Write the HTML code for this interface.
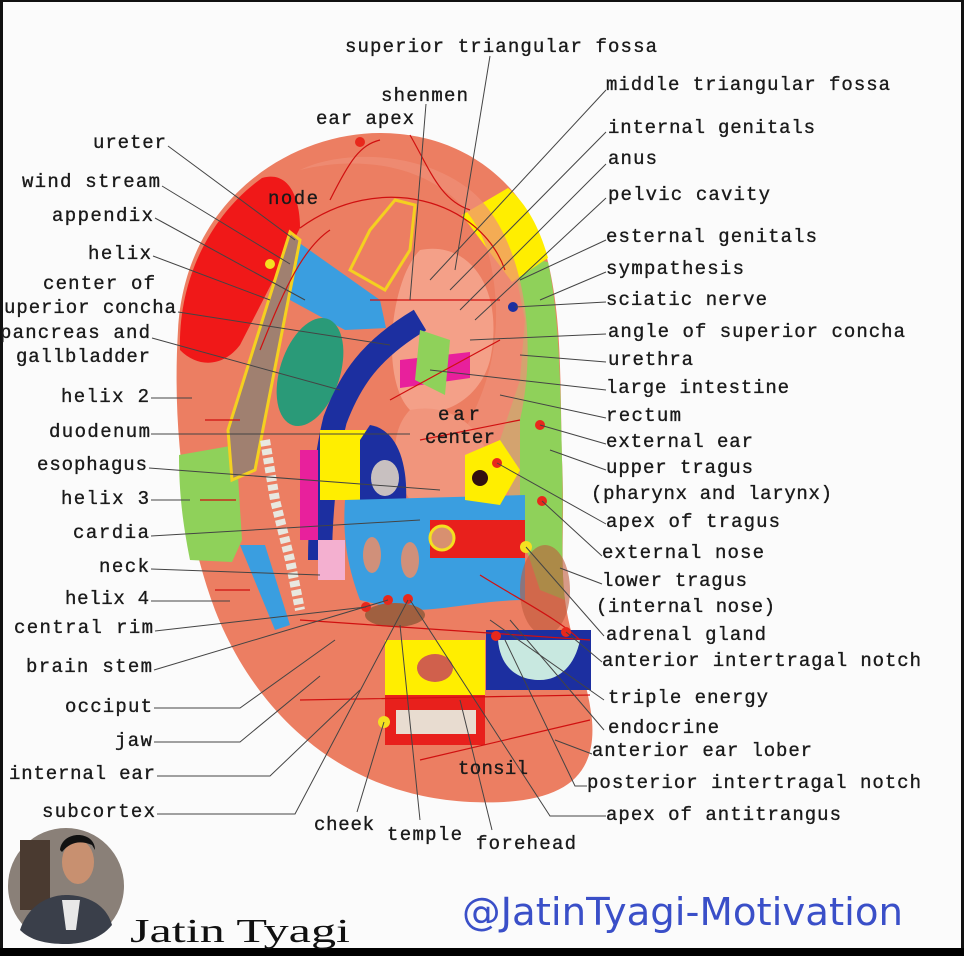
<!DOCTYPE html>
<html><head><meta charset="utf-8"><style>
html,body{margin:0;padding:0;background:#fff}
svg{display:block}
text{font-family:"Liberation Mono",monospace;font-size:19px;fill:#1a1a1a;stroke:#1a1a1a;stroke-width:0.35}
</style></head><body>
<svg width="964" height="956" viewBox="0 0 964 956" xmlns="http://www.w3.org/2000/svg">
<rect width="964" height="956" fill="#fbfbfb"/>
<rect x="0" y="0" width="3" height="956" fill="#111"/>
<rect x="0" y="0" width="964" height="2" fill="#111"/>
<rect x="961" y="0" width="3" height="956" fill="#111"/>
<rect x="0" y="948" width="964" height="8" fill="#000"/>

<path d="M380 133 C290 133 185 200 178 330 C172 430 185 530 215 610 C250 700 330 795 470 802 C560 806 597 780 592 720 C588 680 570 640 565 600 C560 560 565 520 562 460 C560 380 562 320 548 262 C528 180 460 133 380 133 Z" fill="#ec7e62"/>
<path d="M262 178 C290 170 300 200 300 228 L240 345 C225 365 200 370 180 350 C178 280 210 215 262 178 Z" fill="#f01818"/>
<path d="M179 455 L236 445 L242 540 L232 562 L190 560 C182 520 179 490 179 455 Z" fill="#8fd15a"/>
<path d="M512 255 L548 262 C560 320 560 380 562 460 C564 520 560 560 565 600 L540 590 L510 500 L500 440 L520 380 L525 320 Z" fill="#8fd15a"/>
<path d="M462 215 L508 188 C528 205 540 230 548 258 L512 282 Z" fill="#ffee00"/>
<path d="M300 170 C380 150 470 175 490 260 C505 330 490 380 470 420 C440 470 420 520 450 500 L520 500 L520 420 C540 330 520 230 470 190 C420 150 340 150 300 170 Z" fill="#f09078" opacity="0.7"/>
<path d="M420 250 C470 240 505 290 490 360 C480 400 440 420 410 410 C380 380 390 280 420 250 Z" fill="#f4a088"/>
<path d="M410 410 C460 400 500 440 490 500 L410 500 C390 470 390 430 410 410 Z" fill="#f1957c"/>
<path d="M298 242 L380 300 L386 328 L345 330 L290 300 L285 272 Z" fill="#3a9ee0"/>
<path d="M395 200 L415 205 L410 250 L385 290 L350 270 L370 230 Z" fill="none" stroke="#f4d020" stroke-width="3"/>
<ellipse cx="310" cy="372" rx="30" ry="56" transform="rotate(18 310 372)" fill="#2a9a78"/>
<path d="M290 232 L300 240 L255 470 L232 480 L228 430 Z" fill="#a08070" stroke="#f4d020" stroke-width="3"/>
<circle cx="270" cy="264" r="5" fill="#f4e020"/>
<path d="M420 320 C370 350 350 380 335 420 C325 460 320 520 320 560" fill="none" stroke="#1c2fa0" stroke-width="24"/>
<path d="M300 450 L318 450 L318 540 L300 540 Z" fill="#e8209c"/>
<path d="M318 540 L345 540 L345 580 L318 580 Z" fill="#f4b0d0"/>
<path d="M320 430 L370 430 L370 500 L320 500 Z" fill="#ffee00"/>
<path d="M370 425 C400 430 410 470 405 515 L360 515 L360 440 Z" fill="#1c2fa0"/>
<ellipse cx="385" cy="478" rx="14" ry="18" fill="#c8c0c0"/>
<path d="M400 360 L470 352 L470 378 L400 388 Z" fill="#e8209c"/>
<path d="M420 330 L450 340 L445 395 L415 380 Z" fill="#8fd15a"/>
<path d="M345 500 L525 495 L525 600 C480 600 440 612 400 610 L360 600 C345 560 343 530 345 500 Z" fill="#3a9ee0"/>
<path d="M430 520 L525 520 L525 558 L430 558 Z" fill="#e8201c"/>
<circle cx="442" cy="538" r="12" fill="#d89070" stroke="#f4e020" stroke-width="3"/>
<path d="M465 455 L500 440 L520 470 L500 505 L465 500 Z" fill="#ffee00"/>
<circle cx="480" cy="478" r="8" fill="#331010"/>
<ellipse cx="372" cy="555" rx="9" ry="18" fill="#d0907a"/>
<ellipse cx="410" cy="560" rx="9" ry="18" fill="#d0907a"/>
<path d="M265 440 L275 500 L290 560 L300 610" fill="none" stroke="#e8e8e0" stroke-width="10" stroke-dasharray="6 3"/>
<path d="M240 545 L265 545 L290 625 L275 630 Z" fill="#3a9ee0"/>
<ellipse cx="545" cy="590" rx="25" ry="45" fill="#c05a3c" opacity="0.6"/>
<ellipse cx="395" cy="615" rx="30" ry="12" fill="#a06040"/>
<rect x="385" y="640" width="100" height="55" fill="#ffee00"/>
<ellipse cx="435" cy="668" rx="18" ry="14" fill="#d0604c"/>
<rect x="385" y="695" width="100" height="50" fill="#e8201c"/>
<rect x="396" y="710" width="80" height="24" fill="#e8dcd0"/>
<rect x="486" y="630" width="105" height="60" fill="#1c2fa0"/>
<path d="M498 640 L580 640 C575 665 560 680 540 680 C515 680 500 665 498 640 Z" fill="#c8e8e0"/>
<g fill="none" stroke="#d01010" stroke-width="1.2">
<path d="M300 228 C380 170 480 200 505 270"/>
<path d="M260 350 C280 300 300 250 330 230"/>
<path d="M205 420 L240 420 M200 500 L236 500 M215 590 L250 590"/>
<path d="M330 200 C350 160 360 145 380 140"/>
<path d="M410 135 C430 170 440 200 470 210"/>
<path d="M390 400 L500 340 M420 440 L520 420 M370 300 L500 300"/>
<path d="M300 700 L590 695 M300 620 L590 640 M420 760 L590 720"/>
<path d="M480 575 C520 600 560 620 580 640"/>
</g>
<g fill="#e8281c">
<circle cx="360" cy="142" r="5"/>
<circle cx="540" cy="425" r="5"/>
<circle cx="497" cy="463" r="5"/>
<circle cx="542" cy="501" r="5"/>
<circle cx="496" cy="636" r="5"/>
<circle cx="566" cy="632" r="5"/>
<circle cx="366" cy="607" r="5"/>
<circle cx="388" cy="600" r="5"/>
<circle cx="408" cy="599" r="5"/>
</g>
<circle cx="513" cy="307" r="5" fill="#1c2fa0"/>
<circle cx="526" cy="547" r="6" fill="#f4e020"/>
<circle cx="384" cy="722" r="6" fill="#f4e020"/>

<g stroke="#444" stroke-width="1" fill="none">
<path d="M490 56 L455 270"/>
<path d="M426 104 L410 300"/>
<path d="M606 90 L430 280"/>
<path d="M606 132 L450 290"/>
<path d="M606 164 L460 310"/>
<path d="M606 198 L475 320"/>
<path d="M606 240 L520 280"/>
<path d="M606 272 L540 300"/>
<path d="M606 302 L515 307"/>
<path d="M606 334 L470 340"/>
<path d="M606 362 L520 355"/>
<path d="M606 390 L430 370"/>
<path d="M606 418 L500 395"/>
<path d="M606 444 L540 425"/>
<path d="M606 470 L550 450"/>
<path d="M606 524 L497 463"/>
<path d="M602 556 L542 501"/>
<path d="M602 584 L560 568"/>
<path d="M604 636 L526 547"/>
<path d="M602 662 L566 632"/>
<path d="M604 700 L490 620"/>
<path d="M604 730 L510 620"/>
<path d="M592 754 L555 740"/>
<path d="M587 786 L575 786 L505 640"/>
<path d="M606 816 L550 816 L410 600"/>
<path d="M168 146 L295 240"/>
<path d="M162 186 L290 264"/>
<path d="M155 218 L305 300"/>
<path d="M153 256 L270 300"/>
<path d="M178 312 L390 345"/>
<path d="M152 338 L340 390"/>
<path d="M151 398 L192 398"/>
<path d="M151 434 L410 434"/>
<path d="M149 468 L440 490"/>
<path d="M151 500 L190 500"/>
<path d="M151 536 L420 520"/>
<path d="M151 569 L320 575"/>
<path d="M151 601 L230 601"/>
<path d="M155 631 L366 607"/>
<path d="M154 670 L388 600"/>
<path d="M154 708 L240 708 L335 640"/>
<path d="M154 742 L240 742 L320 676"/>
<path d="M157 776 L270 776 L360 690"/>
<path d="M157 814 L295 814 L408 600"/>
<path d="M357 812 L384 722"/>
<path d="M420 820 L400 625"/>
<path d="M492 830 L460 700"/>
</g>

<text x="345" y="52" textLength="312">superior triangular fossa</text>
<text x="381" y="101" textLength="87">shenmen</text>
<text x="316" y="124" textLength="98">ear apex</text>
<text x="268" y="204" textLength="50">node</text>
<text x="438" y="420" textLength="42">ear</text>
<text x="425" y="443" textLength="70">center</text>
<text x="458" y="774" textLength="70">tonsil</text>
<text x="314" y="830" textLength="60">cheek</text>
<text x="387" y="840" textLength="75">temple</text>
<text x="476" y="849" textLength="100">forehead</text>

<text x="606" y="90" textLength="284">middle triangular fossa</text>
<text x="608" y="133" textLength="207">internal genitals</text>
<text x="608" y="164" textLength="49">anus</text>
<text x="608" y="200" textLength="162">pelvic cavity</text>
<text x="606" y="242" textLength="211">esternal genitals</text>
<text x="606" y="274" textLength="138">sympathesis</text>
<text x="606" y="305" textLength="161">sciatic nerve</text>
<text x="608" y="337" textLength="297">angle of superior concha</text>
<text x="608" y="365" textLength="85">urethra</text>
<text x="606" y="393" textLength="183">large intestine</text>
<text x="606" y="421" textLength="75">rectum</text>
<text x="606" y="447" textLength="147">external ear</text>
<text x="606" y="473" textLength="147">upper tragus</text>
<text x="591" y="499" textLength="241">(pharynx and larynx)</text>
<text x="606" y="527" textLength="174">apex of tragus</text>
<text x="602" y="558" textLength="162">external nose</text>
<text x="602" y="586" textLength="145">lower tragus</text>
<text x="596" y="612" textLength="179">(internal nose)</text>
<text x="606" y="640" textLength="160">adrenal gland</text>
<text x="602" y="666" textLength="319">anterior intertragal notch</text>
<text x="608" y="703" textLength="160">triple energy</text>
<text x="608" y="733" textLength="111">endocrine</text>
<text x="592" y="756" textLength="220">anterior ear lober</text>
<text x="587" y="788" textLength="334">posterior intertragal notch</text>
<text x="606" y="820" textLength="235">apex of antitrangus</text>

<text x="93" y="148" textLength="73">ureter</text>
<text x="22" y="187" textLength="138">wind stream</text>
<text x="52" y="221" textLength="101">appendix</text>
<text x="88" y="259" textLength="63">helix</text>
<text x="43" y="289" textLength="112">center of</text>
<text x="4" y="313" textLength="172">uperior concha</text>
<text x="0" y="338" textLength="150">pancreas and</text>
<text x="16" y="362" textLength="134">gallbladder</text>
<text x="61" y="402" textLength="88">helix 2</text>
<text x="49" y="437" textLength="101">duodenum</text>
<text x="37" y="470" textLength="110">esophagus</text>
<text x="61" y="504" textLength="88">helix 3</text>
<text x="73" y="538" textLength="76">cardia</text>
<text x="99" y="572" textLength="50">neck</text>
<text x="65" y="604" textLength="84">helix 4</text>
<text x="14" y="633" textLength="139">central rim</text>
<text x="26" y="672" textLength="126">brain stem</text>
<text x="65" y="712" textLength="87">occiput</text>
<text x="115" y="746" textLength="37">jaw</text>
<text x="9" y="779" textLength="146">internal ear</text>
<text x="42" y="817" textLength="113">subcortex</text>

<circle cx="66" cy="886" r="58" fill="#8a8078"/>
<rect x="20" y="840" width="30" height="70" fill="#4a3a30"/>
<path d="M20 930 C30 900 55 895 66 895 C80 895 105 900 112 925 C100 940 80 944 66 944 C45 944 30 940 20 930 Z" fill="#3a3f4a"/>
<path d="M62 900 L80 900 L76 930 L66 930 Z" fill="#e8e8e8"/>
<ellipse cx="78" cy="862" rx="16" ry="22" fill="#c89070"/>
<path d="M60 850 C62 830 95 830 95 850 L92 845 C80 840 70 842 62 852 Z" fill="#111"/>
<text x="130" y="942" textLength="220" lengthAdjust="spacingAndGlyphs" style="font-family:'Liberation Serif',serif;font-size:34px;fill:#111;stroke:none">Jatin Tyagi</text>
<text x="462" y="925" textLength="441" lengthAdjust="spacingAndGlyphs" style="font-family:'DejaVu Sans','Liberation Sans',sans-serif;font-size:38px;fill:#3a4fc8;stroke:none">@JatinTyagi-Motivation</text>
</svg>
</body></html>
